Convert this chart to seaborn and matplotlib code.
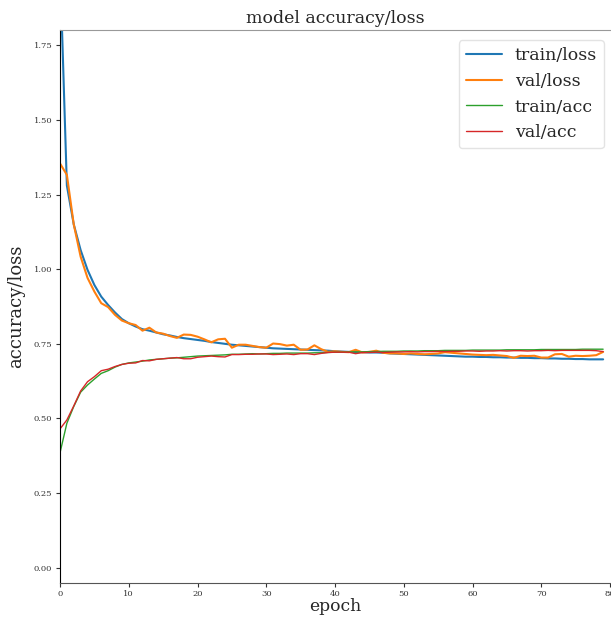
import numpy as np
import pandas as pd
import matplotlib
matplotlib.use("Agg")
import matplotlib.pyplot as plt
import seaborn as sns

train_loss = [2.02, 1.28, 1.15, 1.064, 0.998, 0.947, 0.908, 0.880, 0.855, 0.833,
              0.819, 0.808, 0.799, 0.794, 0.788, 0.782, 0.778, 0.773, 0.769, 0.766,
              0.763, 0.760, 0.756, 0.753, 0.750, 0.747, 0.745, 0.743, 0.741, 0.739,
              0.737, 0.735, 0.734, 0.733, 0.732, 0.731, 0.730, 0.729, 0.728, 0.727,
              0.725, 0.724, 0.723, 0.722, 0.722, 0.721, 0.721, 0.720, 0.718, 0.717,
              0.716, 0.715, 0.714, 0.713, 0.712, 0.711, 0.710, 0.709, 0.708, 0.707,
              0.707, 0.706, 0.706, 0.705, 0.705, 0.704, 0.704, 0.703, 0.703, 0.702,
              0.702, 0.701, 0.701, 0.700, 0.700, 0.699, 0.699, 0.698, 0.698, 0.698]

val_loss = [1.354, 1.316, 1.150, 1.042, 0.971, 0.925, 0.886, 0.873, 0.847, 0.828,
            0.819, 0.813, 0.794, 0.804, 0.788, 0.784, 0.776, 0.770, 0.781, 0.780,
            0.774, 0.765, 0.755, 0.765, 0.767, 0.737, 0.747, 0.747, 0.743, 0.739,
            0.737, 0.751, 0.749, 0.744, 0.747, 0.730, 0.731, 0.745, 0.732, 0.723,
            0.725, 0.723, 0.722, 0.730, 0.721, 0.723, 0.727, 0.720, 0.718, 0.718,
            0.716, 0.718, 0.716, 0.715, 0.716, 0.718, 0.722, 0.720, 0.718, 0.716,
            0.714, 0.713, 0.712, 0.713, 0.711, 0.709, 0.703, 0.710, 0.709, 0.710,
            0.704, 0.704, 0.715, 0.716, 0.707, 0.710, 0.709, 0.710, 0.712, 0.723]

train_acc = [0.385, 0.484, 0.540, 0.588, 0.612, 0.632, 0.651, 0.660, 0.672, 0.681,
             0.686, 0.689, 0.692, 0.696, 0.698, 0.700, 0.702, 0.703, 0.705, 0.707,
             0.709, 0.710, 0.711, 0.712, 0.713, 0.715, 0.715, 0.716, 0.717, 0.716,
             0.717, 0.718, 0.718, 0.719, 0.719, 0.719, 0.719, 0.720, 0.720, 0.721,
             0.722, 0.722, 0.723, 0.723, 0.723, 0.724, 0.724, 0.725, 0.725, 0.725,
             0.726, 0.726, 0.726, 0.727, 0.727, 0.727, 0.728, 0.728, 0.728, 0.728,
             0.729, 0.729, 0.729, 0.729, 0.729, 0.730, 0.730, 0.730, 0.730, 0.730,
             0.731, 0.731, 0.731, 0.731, 0.731, 0.731, 0.732, 0.732, 0.732, 0.732]

val_acc = [0.465, 0.495, 0.542, 0.592, 0.623, 0.640, 0.660, 0.665, 0.674, 0.681,
           0.685, 0.686, 0.694, 0.693, 0.698, 0.700, 0.702, 0.704, 0.700, 0.700,
           0.705, 0.707, 0.709, 0.707, 0.706, 0.714, 0.714, 0.715, 0.715, 0.716,
           0.716, 0.714, 0.715, 0.716, 0.714, 0.717, 0.717, 0.714, 0.718, 0.721,
           0.722, 0.722, 0.722, 0.717, 0.721, 0.721, 0.722, 0.721, 0.722, 0.723,
           0.723, 0.724, 0.723, 0.724, 0.724, 0.725, 0.724, 0.725, 0.725, 0.726,
           0.726, 0.725, 0.726, 0.726, 0.727, 0.726, 0.727, 0.727, 0.726, 0.727,
           0.727, 0.728, 0.727, 0.728, 0.728, 0.728, 0.728, 0.728, 0.727, 0.724]

series_names = ["train/loss", "val/loss", "train/acc", "val/acc"]
series_colors = ["#1f77b4", "#ff7f0e", "#2ca02c", "#d62728"]
series_widths = [1.5, 1.5, 1.0, 1.0]
x_ticks = [0, 10, 20, 30, 40, 50, 60, 70, 80]
y_ticks = [0.0, 0.25, 0.5, 0.75, 1.0, 1.25, 1.5, 1.75]

epochs = np.arange(len(train_loss))
df = pd.DataFrame({
    "epoch": np.tile(epochs, 4),
    "value": np.concatenate([train_loss, val_loss, train_acc, val_acc]),
    "series": np.repeat(series_names, len(epochs)),
})

sns.set_style("ticks")
plt.rcParams["font.family"] = ["DejaVu Serif"]

fig = plt.figure(figsize=(6.11, 6.18), dpi=100)
ax = fig.add_axes([60 / 611, 35.3 / 618, 550 / 611, 552.4 / 618])

for name, color, lw in zip(series_names, series_colors, series_widths):
    sns.lineplot(data=df[df["series"] == name], x="epoch", y="value",
                 color=color, linewidth=lw, label=name, ax=ax)

ax.set_xlim(0, 80)
ax.set_ylim(-0.05, 1.80)
ax.set_xticks(x_ticks)
ax.set_yticks(y_ticks)
ax.set_yticklabels([f"{v:.2f}" for v in y_ticks])
ax.tick_params(labelsize=6, length=3, width=0.8, pad=2.5, colors="#333333")
ax.set_title("model accuracy/loss", fontsize=12.5, pad=5)
ax.set_xlabel("epoch", fontsize=12.3, labelpad=0)
ax.set_ylabel("accuracy/loss", fontsize=13, labelpad=6)

ax.spines["left"].set_color("black")
ax.spines["bottom"].set_color("#555555")
ax.spines["top"].set_visible(True)
ax.spines["top"].set_color("#999999")
ax.spines["right"].set_visible(False)

leg = ax.legend(loc="upper right", fontsize=12.5, frameon=True, fancybox=True,
                borderpad=0.4, borderaxespad=0, handlelength=2.07,
                handletextpad=0.75, labelspacing=0.5,
                bbox_to_anchor=(0.989, 0.982))
leg.get_frame().set_edgecolor("#dddddd")

fig.savefig("out.png", dpi=100)
